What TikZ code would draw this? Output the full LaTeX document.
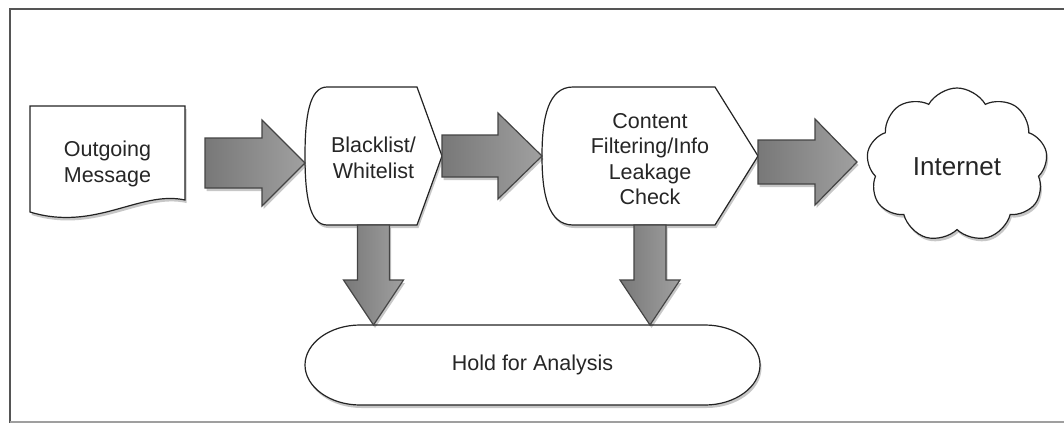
\documentclass[tikz,border=0pt]{standalone}
\usepackage{fontspec}
\setmainfont{Liberation Sans}
\usetikzlibrary{calc,shapes.symbols,shadows}
\definecolor{arrowL}{RGB}{120,120,120}
\definecolor{arrowR}{RGB}{160,160,160}
\definecolor{edgec}{RGB}{35,35,35}
\definecolor{framec}{RGB}{85,85,85}
\tikzset{
  softshadow/.style={drop shadow={shadow xshift=1.5pt, shadow yshift=-3pt, opacity=0.22, fill=black}},
  shapeline/.style={draw=edgec, line width=1.2pt, fill=white, softshadow},
  blockarrow/.style={draw=edgec!85, line width=1.2pt, left color=arrowL, right color=arrowR, softshadow},
  area/.style={inner sep=0pt, outer sep=0pt, minimum width=#1},
  lbl/.style={align=center, inner sep=0pt, font=\fontsize{21.5}{25.5}\selectfont, text=black!85},
  biglbl/.style={align=center, inner sep=0pt, font=\fontsize{26}{30}\selectfont, text=black!85},
  cloudnode/.style={cloud, cloud puffs=9, cloud puff arc=120, cloud ignores aspect, minimum width=181pt, minimum height=154pt, inner sep=0pt, shapeline}
}
\newcommand\hblock[5]{\path[blockarrow] let \p1=#1, \p2=#2 in
  (\x1,\y1-#3) -- (\x2-#5,\y1-#3) -- (\x2-#5,\y1-#4) -- (\x2,\y1) -- (\x2-#5,\y1+#4) -- (\x2-#5,\y1+#3) -- (\x1,\y1+#3) -- cycle;}
\newcommand\vblock[5]{\path[blockarrow] let \p1=#1, \p2=#2 in
  (\x1-#3,\y1) -- (\x1-#3,\y2+#5) -- (\x1-#4,\y2+#5) -- (\x1,\y2) -- (\x1+#4,\y2+#5) -- (\x1+#3,\y2+#5) -- (\x1+#3,\y1) -- cycle;}
\begin{document}
\begin{tikzpicture}[x=1pt,y=-1pt]
\useasboundingbox (0,0) rectangle (1064,423);
% frame
\draw[framec, line width=2.2pt] (1064,9) -- (10,9) -- (10,423);
\draw[gray!75, line width=1.6pt] (10,422) -- (1064,422);

% node areas
\node[area=155pt, minimum height=114pt] (om) at (107.5,163) {};
\node[area=137pt, minimum height=138pt] (bl) at (373.5,156) {};
\node[area=216pt, minimum height=138pt] (co) at (650,156) {};
\node[area=455pt, minimum height=80pt] (hold) at (532.5,365) {};

% document shape
\path[shapeline] (om.north west) -- (om.north east) -- ($(om.north east)+(0,94)$)
  .. controls ($(om.north east)+(-45,84)$) and ($(om.north east)+(-90,126)$) .. ($(om.north west)+(0,106)$) -- cycle;
% display shapes
\path[shapeline] ($(bl.north west)+(22,0)$) -- ($(bl.north east)+(-25,0)$) -- (bl.east) -- ($(bl.south east)+(-25,0)$) -- ($(bl.south west)+(22,0)$)
  .. controls ($(bl.south west)+(4,0)$) and ($(bl.west)+(0,38)$) .. (bl.west)
  .. controls ($(bl.west)+(0,-38)$) and ($(bl.north west)+(4,0)$) .. cycle;
\path[shapeline] ($(co.north west)+(31,0)$) -- ($(co.north east)+(-43,0)$) -- (co.east) -- ($(co.south east)+(-43,0)$) -- ($(co.south west)+(31,0)$)
  .. controls ($(co.south west)+(6,0)$) and ($(co.west)+(0,38)$) .. (co.west)
  .. controls ($(co.west)+(0,-38)$) and ($(co.north west)+(6,0)$) .. cycle;
% hold (elongated stadium)
\path[shapeline] ($(hold.north west)+(55,0)$) -- ($(hold.north east)+(-55,0)$)
  .. controls ($(hold.north east)+(-25,0)$) and ($(hold.east)+(0,-22)$) .. (hold.east)
  .. controls ($(hold.east)+(0,22)$) and ($(hold.south east)+(-25,0)$) .. ($(hold.south east)+(-55,0)$)
  -- ($(hold.south west)+(55,0)$)
  .. controls ($(hold.south west)+(25,0)$) and ($(hold.west)+(0,22)$) .. (hold.west)
  .. controls ($(hold.west)+(0,-22)$) and ($(hold.north west)+(25,0)$) .. cycle;
% cloud
\node[cloudnode] (cl) at (957,165) {};

% texts
\node[lbl] (omt) at ($(om)+(0,1)$) {Outgoing\\Message};
\node[lbl] (blt) at ($(bl)+(0,2)$) {Blacklist/\\Whitelist};
\node[lbl] (cot) at ($(co)+(0,3)$) {Content\\Filtering/Info\\Leakage\\Check};
\node[lbl] (holdt) at (hold) {Hold for Analysis};
\node[biglbl] (clt) at ($(cl)+(0,2)$) {Internet};

% block arrows
\hblock{($(om.east)+(20,0)$)}{(bl.west)}{25pt}{43pt}{43pt}
\hblock{(bl.east)}{(co.west)}{21pt}{43pt}{44pt}
\hblock{($(co.east)+(0,6)$)}{($(cl.center)+(-100,0)$)}{22pt}{43pt}{42pt}
\vblock{(bl.south)}{(hold.north)}{16pt}{30pt}{45pt}
\vblock{(co.south)}{(hold.north)}{16pt}{30pt}{45pt}
\end{tikzpicture}
\end{document}
